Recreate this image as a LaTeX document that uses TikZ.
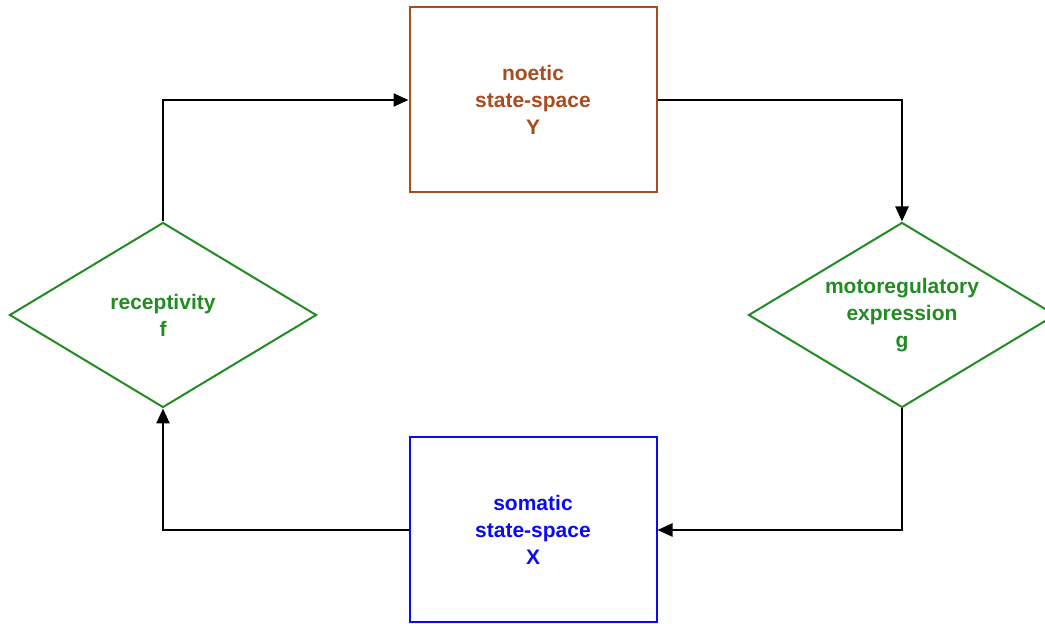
\documentclass[tikz,border=0pt]{standalone}
\usepackage{fontspec}
\setmainfont{Liberation Sans}
\usetikzlibrary{shapes.geometric,arrows.meta}
\definecolor{noeticbrown}{RGB}{170,75,30}
\definecolor{mapgreen}{RGB}{34,139,34}
\definecolor{somaticblue}{RGB}{10,10,245}
\tikzset{
  statebox/.style={draw, line width=2pt, minimum width=247pt, minimum height=185pt},
  mapdiamond/.style={draw=mapgreen, line width=2pt, diamond, aspect=1.66, inner sep=0pt,
    minimum width=307pt, minimum height=185pt, text=mapgreen},
  boxtext/.style={align=center, font=\fontsize{21}{27}\selectfont\bfseries},
  flow/.style={line width=2.4pt, -{Triangle[length=15pt,width=13pt]}}
}
\begin{document}
\begin{tikzpicture}[x=1pt,y=1pt]
\useasboundingbox (0,0) rectangle (1045,624);

% state-spaces
\node[statebox, draw=noeticbrown, text=noeticbrown, boxtext] (noetic) at (533,524) {noetic\\state-space\\Y};
\node[statebox, draw=somaticblue, text=somaticblue, boxtext] (somatic) at (533,94) {somatic\\state-space\\X};

% maps
\node[mapdiamond, boxtext] (recept) at (163,309) {receptivity\\f};
\node[mapdiamond, boxtext] (motor) at (902,309) {motoregulatory\\expression\\g};

% flow
\draw[flow] (recept.north) |- (noetic.west);
\draw[flow] (noetic.east) -| (motor.north);
\draw[flow] (motor.south) |- (somatic.east);
\draw[flow] (somatic.west) -| (recept.south);
\end{tikzpicture}
\end{document}
